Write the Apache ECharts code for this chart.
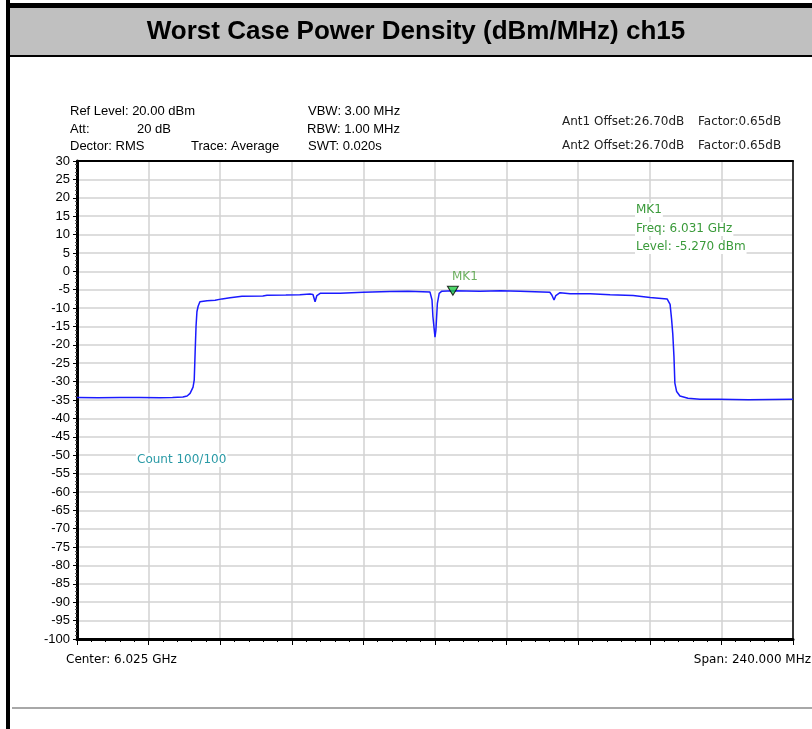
<!DOCTYPE html>
<html><head><meta charset="utf-8">
<script src="https://cdn.jsdelivr.net/npm/echarts@6/dist/echarts.min.js"></script>
<style>html,body{margin:0;padding:0;background:#fff}#c{width:812px;height:729px}</style>
</head><body><div id="c"></div>
<script>
// Frequency (MHz) and level (dBm) of the trace
var freqMHz = [5905, 5912, 5919.4, 5926, 5932.8, 5937, 5940.5, 5941.9, 5942.9, 5943.9, 5944.3, 5944.6, 5944.9, 5945.2, 5945.6, 5946.2, 5948.6, 5951.3, 5953.6, 5956.3, 5960.3, 5967.3, 5968.7, 5975, 5979.7, 5983.1, 5984.1, 5984.8, 5985.4, 5986.5, 5993.2, 6000.9, 6009.9, 6016, 6023.3, 6024.0, 6024.3, 6025.0, 6025.3, 6025.8, 6026.4, 6027.3, 6031, 6040.1, 6047, 6053.5, 6063.5, 6064.2, 6064.9, 6065.5, 6066.9, 6070.3, 6077.0, 6083.7, 6091.4, 6097.1, 6102.8, 6103.4, 6103.8, 6104.3, 6104.7, 6105.1, 6105.4, 6106.0, 6107.1, 6109.8, 6113.8, 6120, 6130, 6145];
var levelDbm = [-34.3, -34.4, -34.3, -34.3, -34.4, -34.3, -34.2, -33.9, -33.2, -31.5, -29.5, -22, -15, -11, -9.5, -8.3, -8.0, -7.9, -7.5, -7.2, -6.8, -6.7, -6.5, -6.45, -6.4, -6.2, -6.3, -8.3, -6.6, -6.0, -6.0, -5.7, -5.5, -5.45, -5.6, -7.8, -12.3, -17.9, -16, -8.7, -6.0, -5.4, -5.27, -5.4, -5.3, -5.4, -5.7, -6.5, -7.8, -6.6, -5.8, -6.1, -6.1, -6.4, -6.6, -7.1, -7.5, -7.7, -9, -13, -17, -23.2, -30.4, -32.7, -33.9, -34.5, -34.8, -34.8, -34.9, -34.8];
var markerFreq = 6031;
var markerLevel = -5.27;
var xMin = 5905, xMax = 6145, xStep = 24;
var yMin = -100, yMax = 30, yStep = 5;

var chart = echarts.init(document.getElementById('c'));
var trace = freqMHz.map(function (f, i) { return [f, levelDbm[i]]; });
var arial = "Arial, 'Liberation Sans', sans-serif";
var tahoma = "Tahoma, 'DejaVu Sans', sans-serif";

chart.setOption({
  animation: false,
  backgroundColor: '#ffffff',
  grid: { left: 77, top: 161, width: 716, height: 478, show: false },
  xAxis: [{
    type: 'value', min: xMin, max: xMax, interval: xStep,
    axisLine: { show: true, onZero: false, lineStyle: { color: '#000', width: 3 } },
    axisTick: { show: true, length: 6, lineStyle: { color: '#000', width: 1 } },
    minorTick: { show: true, splitNumber: 5, length: 3, lineStyle: { color: '#000', width: 1 } },
    axisLabel: { show: false },
    splitLine: { show: true, lineStyle: { color: '#d2d2d2', width: 1.5 } }
  }, {
    type: 'value', position: 'top', min: xMin, max: xMax, interval: xStep,
    axisLine: { show: true, onZero: false, lineStyle: { color: '#000', width: 2 } },
    axisTick: { show: false }, axisLabel: { show: false }, splitLine: { show: false }
  }],
  yAxis: [{
    type: 'value', min: yMin, max: yMax, interval: yStep,
    axisLine: { show: true, onZero: false, lineStyle: { color: '#000', width: 3 } },
    axisTick: { show: true, length: 4, lineStyle: { color: '#000', width: 1 } },
    minorTick: { show: true, splitNumber: 5, length: 2, lineStyle: { color: '#555', width: 1 } },
    axisLabel: { show: true, margin: 7, color: '#000', fontSize: 13, fontFamily: arial },
    splitLine: { show: true, lineStyle: { color: '#d2d2d2', width: 1.5 } }
  }, {
    type: 'value', position: 'right', min: yMin, max: yMax, interval: yStep,
    axisLine: { show: true, onZero: false, lineStyle: { color: '#000', width: 1.5 } },
    axisTick: { show: false }, axisLabel: { show: false }, splitLine: { show: false }
  }],
  series: [
    { type: 'line', data: trace, showSymbol: false, lineStyle: { color: '#1a1aff', width: 1.5 }, z: 3 },
    { type: 'scatter', data: [[markerFreq, markerLevel]], symbol: 'triangle', symbolRotate: 180, symbolSize: [11, 9],
      itemStyle: { color: '#22cc44', borderColor: '#000', borderWidth: 1 }, z: 5,
      label: { show: true, position: 'top', distance: 2, offset: [12, -1], formatter: 'MK1', color: '#4a9e3a', fontSize: 12, fontFamily: tahoma } }
  ],
  graphic: [
    { type: 'rect', shape: { x: 6, y: 0, width: 4, height: 729 }, style: { fill: '#000' }, z: 10 },
    { type: 'rect', shape: { x: 6, y: 3, width: 806, height: 5 }, style: { fill: '#000' }, z: 10 },
    { type: 'rect', shape: { x: 10, y: 8, width: 802, height: 47 }, style: { fill: '#c0c0c0' }, z: 10 },
    { type: 'rect', shape: { x: 10, y: 55, width: 802, height: 2 }, style: { fill: '#000' }, z: 10 },
    { type: 'rect', shape: { x: 12, y: 707, width: 800, height: 2 }, style: { fill: '#a8a8a8' }, z: 10 },
    { type: 'text', x: 416, y: 32, z: 11, style: { text: 'Worst Case Power Density (dBm/MHz) ch15', font: 'bold 26px ' + arial, fill: '#000', textAlign: 'center', textVerticalAlign: 'middle' } },
    { type: 'text', x: 70, y: 111, style: { text: 'Ref Level: 20.00 dBm', font: '13px ' + arial, fill: '#000', textVerticalAlign: 'middle' } },
    { type: 'text', x: 70, y: 129, style: { text: 'Att:', font: '13px ' + arial, fill: '#000', textVerticalAlign: 'middle' } },
    { type: 'text', x: 137, y: 129, style: { text: '20 dB', font: '13px ' + arial, fill: '#000', textVerticalAlign: 'middle' } },
    { type: 'text', x: 70, y: 146, style: { text: 'Dector: RMS', font: '13px ' + arial, fill: '#000', textVerticalAlign: 'middle' } },
    { type: 'text', x: 191, y: 146, style: { text: 'Trace: Average', font: '13px ' + arial, fill: '#000', textVerticalAlign: 'middle' } },
    { type: 'text', x: 308, y: 111, style: { text: 'VBW: 3.00 MHz', font: '13px ' + arial, fill: '#000', textVerticalAlign: 'middle' } },
    { type: 'text', x: 307, y: 129, style: { text: 'RBW: 1.00 MHz', font: '13px ' + arial, fill: '#000', textVerticalAlign: 'middle' } },
    { type: 'text', x: 308, y: 146, style: { text: 'SWT: 0.020s', font: '13px ' + arial, fill: '#000', textVerticalAlign: 'middle' } },
    { type: 'text', x: 562, y: 122, style: { text: 'Ant1 Offset:26.70dB', font: '12px ' + tahoma, fill: '#222', textVerticalAlign: 'middle' } },
    { type: 'text', x: 698, y: 122, style: { text: 'Factor:0.65dB', font: '12px ' + tahoma, fill: '#222', textVerticalAlign: 'middle' } },
    { type: 'text', x: 562, y: 146, style: { text: 'Ant2 Offset:26.70dB', font: '12px ' + tahoma, fill: '#222', textVerticalAlign: 'middle' } },
    { type: 'text', x: 698, y: 146, style: { text: 'Factor:0.65dB', font: '12px ' + tahoma, fill: '#222', textVerticalAlign: 'middle' } },
    { type: 'text', x: 635, y: 210, z: 6, style: { text: 'MK1', font: '12px ' + tahoma, fill: '#3a9a3a', textVerticalAlign: 'middle', backgroundColor: '#fff', padding: [1, 1] } },
    { type: 'text', x: 635, y: 229, z: 6, style: { text: 'Freq: 6.031 GHz', font: '12px ' + tahoma, fill: '#3a9a3a', textVerticalAlign: 'middle', backgroundColor: '#fff', padding: [1, 1] } },
    { type: 'text', x: 635, y: 247, z: 6, style: { text: 'Level: -5.270 dBm', font: '12px ' + tahoma, fill: '#3a9a3a', textVerticalAlign: 'middle', backgroundColor: '#fff', padding: [1, 1] } },
    { type: 'text', x: 136, y: 460, z: 6, style: { text: 'Count 100/100', font: '12px ' + tahoma, fill: '#2a9aa6', textVerticalAlign: 'middle', backgroundColor: '#fff', padding: [1, 1] } },
    { type: 'text', x: 66, y: 660, style: { text: 'Center: 6.025 GHz', font: '12px ' + tahoma, fill: '#000', textVerticalAlign: 'middle' } },
    { type: 'text', x: 811, y: 660, style: { text: 'Span: 240.000 MHz', font: '12px ' + tahoma, fill: '#000', textAlign: 'right', textVerticalAlign: 'middle' } }
  ]
});
</script></body></html>
